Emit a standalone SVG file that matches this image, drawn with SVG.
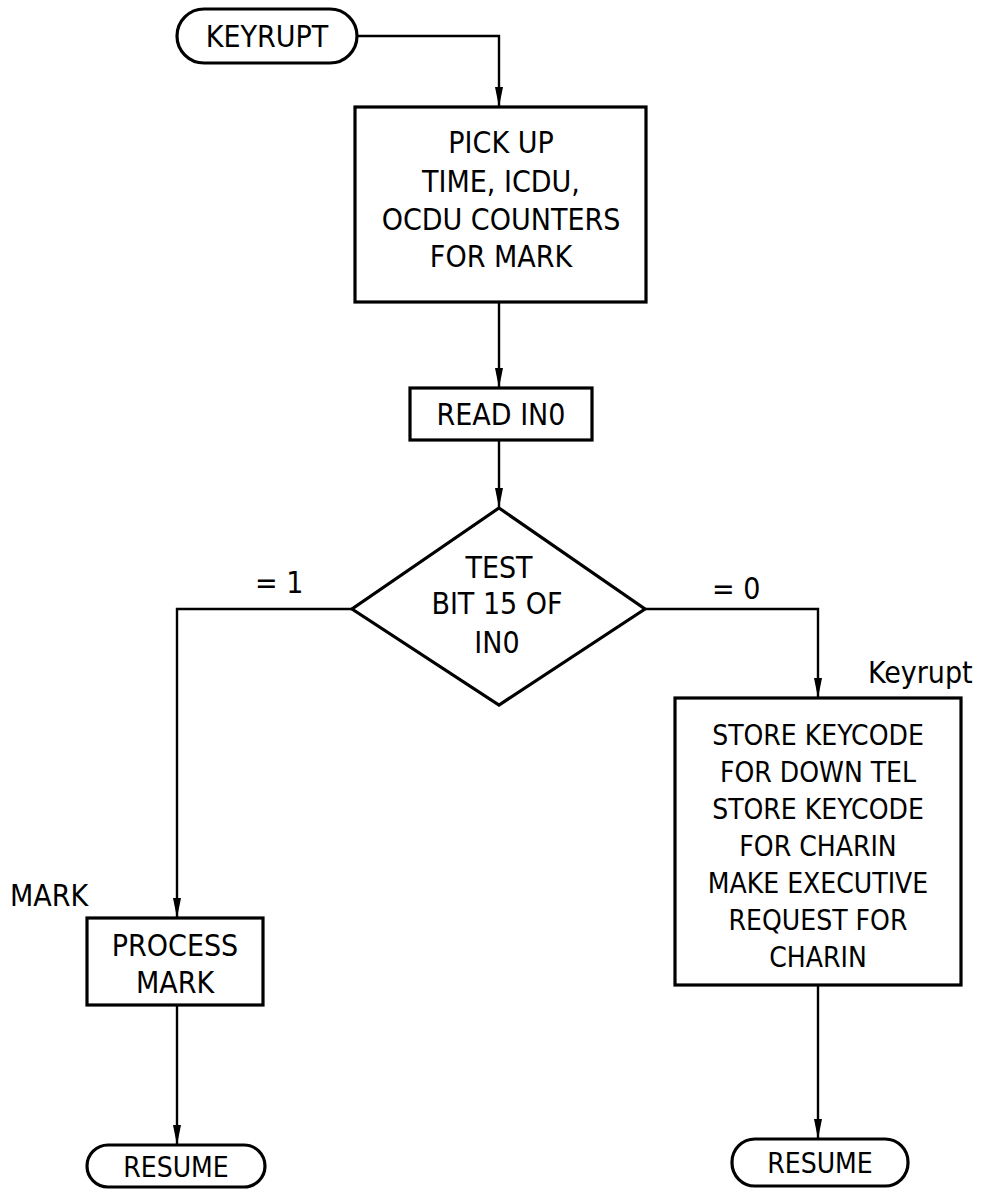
<svg xmlns="http://www.w3.org/2000/svg" width="985" height="1191" viewBox="0 0 985 1191">
  <style>
    .box { fill: #fff; stroke: #000; stroke-width: 3.2; }
    .wire { fill: none; stroke: #000; stroke-width: 2.4; }
    text { font-family: "Liberation Sans Narrow", "DejaVu Sans Condensed", "Liberation Sans", sans-serif; font-size: 30px; fill: #000; text-anchor: middle; }
    .lbl { text-anchor: start; }
    .sm { font-size: 28px; }
  </style>
  <defs>
    <!-- long, narrow filled arrowhead; tip sits on the target edge -->
    <marker id="arrow" viewBox="0 0 20 10" refX="20" refY="5" markerWidth="20" markerHeight="10" markerUnits="userSpaceOnUse" orient="auto">
      <path d="M0,1 L20,5 L0,9 Z" fill="#000"/>
    </marker>
  </defs>
  <rect width="985" height="1191" fill="#fff"/>

  <g id="connectors">
    <path class="wire" d="M357,36 H499 V107" marker-end="url(#arrow)"/>
    <path class="wire" d="M499,302 V388" marker-end="url(#arrow)"/>
    <path class="wire" d="M499,440 V508" marker-end="url(#arrow)"/>
    <path class="wire" d="M352,609 H177 V918" marker-end="url(#arrow)"/>
    <path class="wire" d="M645,609 H818 V698" marker-end="url(#arrow)"/>
    <path class="wire" d="M177,1005 V1145" marker-end="url(#arrow)"/>
    <path class="wire" d="M818,985 V1139" marker-end="url(#arrow)"/>
  </g>

  <g id="start">
    <rect class="box" x="177" y="9" width="180" height="54" rx="27"/>
    <text x="267" y="47">KEYRUPT</text>
  </g>

  <g id="pickup">
    <rect class="box" x="355" y="107" width="291" height="195"/>
    <text x="501" y="153">PICK UP</text>
    <text x="501" y="192">TIME, ICDU,</text>
    <text x="501" y="230">OCDU COUNTERS</text>
    <text x="501" y="267">FOR MARK</text>
  </g>

  <g id="readin0">
    <rect class="box" x="410" y="388" width="182" height="52"/>
    <text x="501" y="425">READ IN0</text>
  </g>

  <g id="testbit">
    <polygon class="box" points="499,508 645,609 499,705 352,609"/>
    <text x="499" y="578">TEST</text>
    <text x="497" y="614">BIT 15 OF</text>
    <text x="497" y="653">IN0</text>
  </g>

  <g id="labels">
    <text class="lbl" x="255" y="593">= 1</text>
    <text class="lbl" x="712" y="599">= 0</text>
    <text class="lbl" x="868" y="683">Keyrupt</text>
    <text class="lbl" x="10" y="906">MARK</text>
  </g>

  <g id="processmark">
    <rect class="box" x="87" y="918" width="176" height="87"/>
    <text x="175" y="956">PROCESS</text>
    <text x="175" y="993">MARK</text>
  </g>

  <g id="storekey">
    <rect class="box" x="675" y="698" width="286" height="287"/>
    <text class="sm" x="818" y="745">STORE KEYCODE</text>
    <text class="sm" x="818" y="782">FOR DOWN TEL</text>
    <text class="sm" x="818" y="819">STORE KEYCODE</text>
    <text class="sm" x="818" y="856">FOR CHARIN</text>
    <text class="sm" x="818" y="893">MAKE EXECUTIVE</text>
    <text class="sm" x="818" y="930">REQUEST FOR</text>
    <text class="sm" x="818" y="967">CHARIN</text>
  </g>

  <g id="resume-mark">
    <rect class="box" x="87" y="1145" width="178" height="42" rx="21"/>
    <text x="176" y="1177" class="sm">RESUME</text>
  </g>

  <g id="resume-key">
    <rect class="box" x="732" y="1139" width="176" height="47" rx="23"/>
    <text x="820" y="1173" class="sm">RESUME</text>
  </g>
</svg>
